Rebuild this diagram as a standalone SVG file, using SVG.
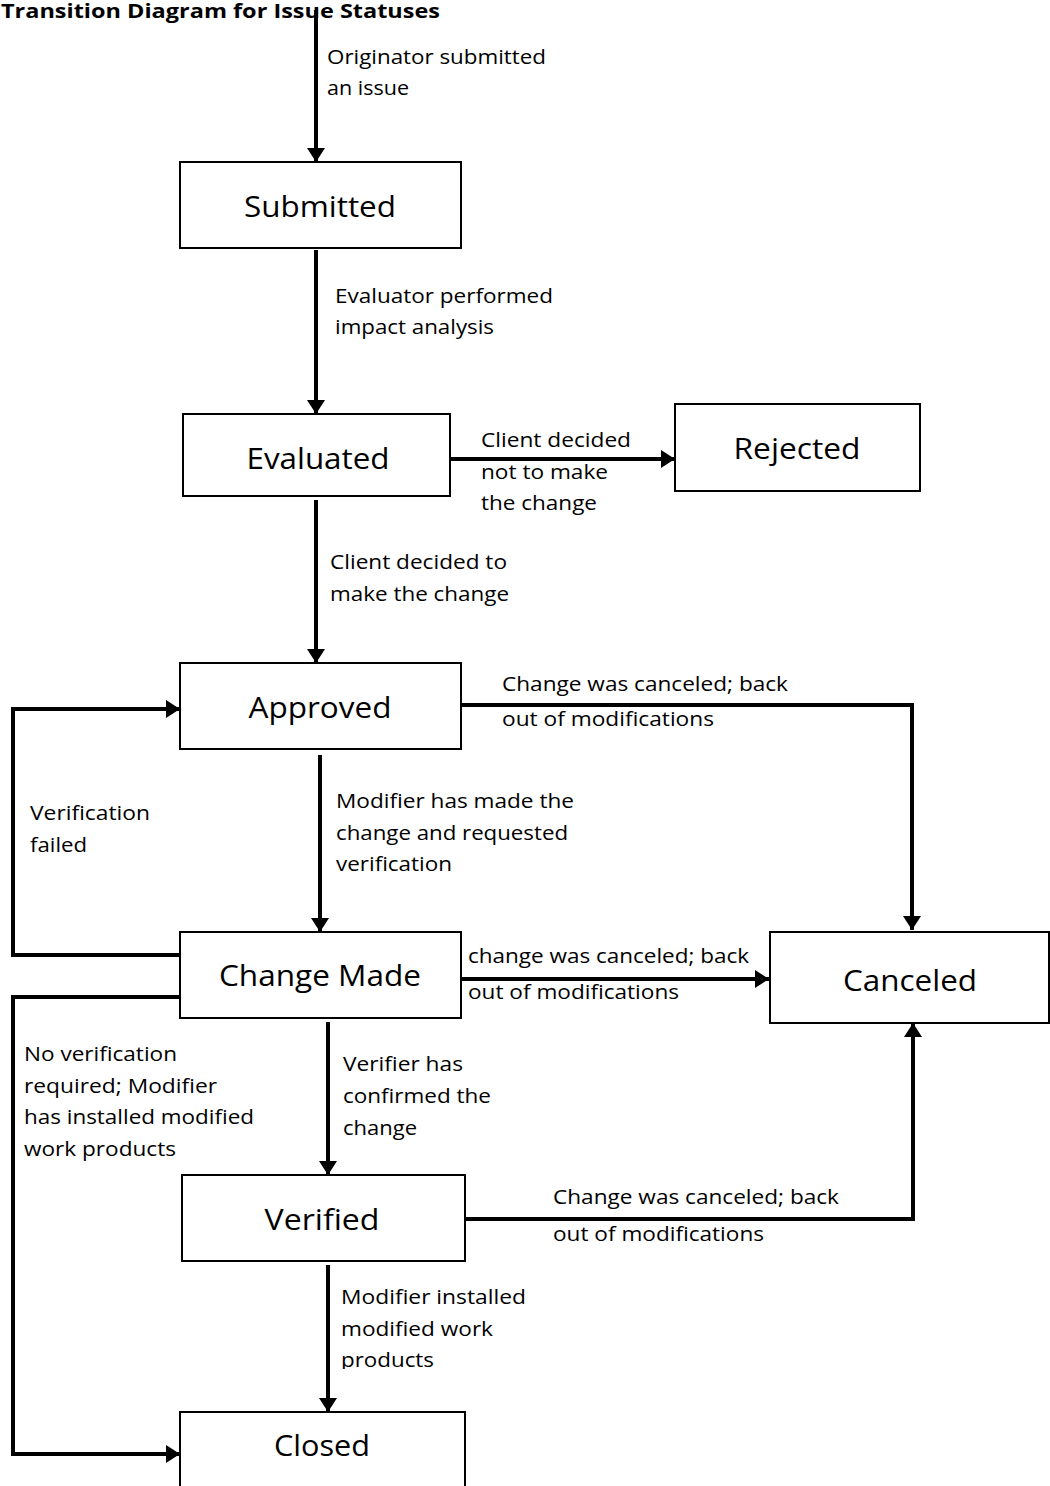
<svg xmlns="http://www.w3.org/2000/svg" width="1050" height="1486" viewBox="0 0 1050 1486">
<style>
.box{fill:#fff;stroke:#000;stroke-width:2}
.nt{font-family:"Open Sans","Liberation Sans",sans-serif;font-size:29px;fill:#000;text-anchor:middle}
.lb{font-family:"Open Sans","Liberation Sans",sans-serif;font-size:20px;fill:#000}
.ttl{font-family:"Open Sans","Liberation Sans",sans-serif;font-size:20px;font-weight:bold;fill:#000}
.cn{fill:none;stroke:#000;stroke-width:4;marker-end:url(#ah)}
</style>
<defs>
<marker id="ah" markerUnits="userSpaceOnUse" markerWidth="20" markerHeight="20" refX="14" refY="10" orient="auto">
<path d="M0,1 L14,10 L0,19 Z" fill="#000"/>
</marker>
<clipPath id="clipProd"><rect x="0" y="0" width="1050" height="1369"/></clipPath>
</defs>
<rect width="1050" height="1486" fill="#fff"/>
<text class="ttl" x="1" y="18" textLength="439" lengthAdjust="spacingAndGlyphs">Transition Diagram for Issue Statuses</text>

<g id="connectors">
<path class="cn" d="M316,10 V162"/>
<path class="cn" d="M316,250 V414"/>
<path class="cn" d="M450,459 H675"/>
<path class="cn" d="M316,500 V663"/>
<path class="cn" d="M461,705 H912 V930"/>
<path class="cn" d="M320,755 V932"/>
<path class="cn" d="M180,955 H13 V709 H180"/>
<path class="cn" d="M461,979 H769"/>
<path class="cn" d="M180,997 H13 V1454 H180"/>
<path class="cn" d="M328,1022 V1175"/>
<path class="cn" d="M465,1219 H913 V1023"/>
<path class="cn" d="M328,1265 V1412"/>
</g>

<g id="labels">
<text class="lb" x="327" y="64" textLength="219" lengthAdjust="spacingAndGlyphs">Originator submitted</text>
<text class="lb" x="327" y="95" textLength="82" lengthAdjust="spacingAndGlyphs">an issue</text>
<text class="lb" x="335" y="303" textLength="218" lengthAdjust="spacingAndGlyphs">Evaluator performed</text>
<text class="lb" x="335" y="334" textLength="159" lengthAdjust="spacingAndGlyphs">impact analysis</text>
<text class="lb" x="481" y="447" textLength="150" lengthAdjust="spacingAndGlyphs">Client decided</text>
<text class="lb" x="481" y="479" textLength="127" lengthAdjust="spacingAndGlyphs">not to make</text>
<text class="lb" x="481" y="510" textLength="116" lengthAdjust="spacingAndGlyphs">the change</text>
<text class="lb" x="330" y="569" textLength="177" lengthAdjust="spacingAndGlyphs">Client decided to</text>
<text class="lb" x="330" y="601" textLength="179" lengthAdjust="spacingAndGlyphs">make the change</text>
<text class="lb" x="502" y="691" textLength="286" lengthAdjust="spacingAndGlyphs">Change was canceled; back</text>
<text class="lb" x="502" y="726" textLength="212" lengthAdjust="spacingAndGlyphs">out of modifications</text>
<text class="lb" x="336" y="808" textLength="238" lengthAdjust="spacingAndGlyphs">Modifier has made the</text>
<text class="lb" x="336" y="840" textLength="232" lengthAdjust="spacingAndGlyphs">change and requested</text>
<text class="lb" x="336" y="871" textLength="116" lengthAdjust="spacingAndGlyphs">verification</text>
<text class="lb" x="30" y="820" textLength="120" lengthAdjust="spacingAndGlyphs">Verification</text>
<text class="lb" x="30" y="852" textLength="57" lengthAdjust="spacingAndGlyphs">failed</text>
<text class="lb" x="468" y="963" textLength="281" lengthAdjust="spacingAndGlyphs">change was canceled; back</text>
<text class="lb" x="468" y="999" textLength="211" lengthAdjust="spacingAndGlyphs">out of modifications</text>
<text class="lb" x="24" y="1061" textLength="153" lengthAdjust="spacingAndGlyphs">No verification</text>
<text class="lb" x="24" y="1093" textLength="193" lengthAdjust="spacingAndGlyphs">required; Modifier</text>
<text class="lb" x="24" y="1124" textLength="230" lengthAdjust="spacingAndGlyphs">has installed modified</text>
<text class="lb" x="24" y="1156" textLength="152" lengthAdjust="spacingAndGlyphs">work products</text>
<text class="lb" x="343" y="1071" textLength="120" lengthAdjust="spacingAndGlyphs">Verifier has</text>
<text class="lb" x="343" y="1103" textLength="148" lengthAdjust="spacingAndGlyphs">confirmed the</text>
<text class="lb" x="343" y="1135" textLength="74" lengthAdjust="spacingAndGlyphs">change</text>
<text class="lb" x="553" y="1204" textLength="286" lengthAdjust="spacingAndGlyphs">Change was canceled; back</text>
<text class="lb" x="553" y="1241" textLength="211" lengthAdjust="spacingAndGlyphs">out of modifications</text>
<text class="lb" x="341" y="1304" textLength="185" lengthAdjust="spacingAndGlyphs">Modifier installed</text>
<text class="lb" x="341" y="1336" textLength="152" lengthAdjust="spacingAndGlyphs">modified work</text>
<text class="lb" x="341" y="1367" textLength="93" lengthAdjust="spacingAndGlyphs" clip-path="url(#clipProd)">products</text>
</g>

<g id="submitted"><rect class="box" x="180" y="162" width="281" height="86"/><text class="nt" x="320" y="217" textLength="152" lengthAdjust="spacingAndGlyphs">Submitted</text></g>
<g id="evaluated"><rect class="box" x="183" y="414" width="267" height="82"/><text class="nt" x="318" y="469" textLength="143" lengthAdjust="spacingAndGlyphs">Evaluated</text></g>
<g id="rejected"><rect class="box" x="675" y="404" width="245" height="87"/><text class="nt" x="797" y="459" textLength="127" lengthAdjust="spacingAndGlyphs">Rejected</text></g>
<g id="approved"><rect class="box" x="180" y="663" width="281" height="86"/><text class="nt" x="320" y="718" textLength="143" lengthAdjust="spacingAndGlyphs">Approved</text></g>
<g id="change-made"><rect class="box" x="180" y="932" width="281" height="86"/><text class="nt" x="320" y="986" textLength="202" lengthAdjust="spacingAndGlyphs">Change Made</text></g>
<g id="canceled"><rect class="box" x="770" y="932" width="279" height="91"/><text class="nt" x="910" y="991" textLength="134" lengthAdjust="spacingAndGlyphs">Canceled</text></g>
<g id="verified"><rect class="box" x="182" y="1175" width="283" height="86"/><text class="nt" x="322" y="1230" textLength="115" lengthAdjust="spacingAndGlyphs">Verified</text></g>
<g id="closed"><rect class="box" x="180" y="1412" width="285" height="80"/><text class="nt" x="322" y="1456" textLength="96" lengthAdjust="spacingAndGlyphs">Closed</text></g>
</svg>
